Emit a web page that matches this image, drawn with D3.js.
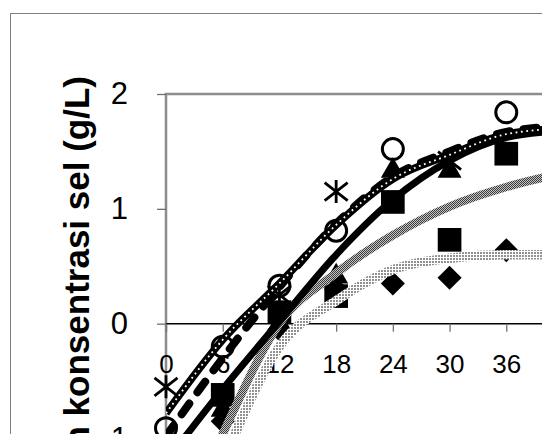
<!DOCTYPE html>
<html>
<head>
<meta charset="utf-8">
<script src="https://cdn.jsdelivr.net/npm/d3@7"></script>
<style>
body{margin:0;background:#fff;}
svg{display:block;}
text{font-family:"Liberation Sans",Arial,sans-serif;fill:#000;}
</style>
</head>
<body>
<div id="chart"></div>
<script>
// data (days vs ln of cell concentration), null = not shown
const days = [0, 6, 12, 18, 24, 30, 36];
const circleVals  = [-0.91, -0.2, 0.33, 0.81, 1.52, null, 1.84];
const starVals    = [-0.55, null, 0.25, 1.15, null, 1.42, null];
const triVals     = [-1.1, -0.75, 0.0, 0.41, 1.33, 1.33, null];
const squareVals  = [-1.15, -0.62, 0.1, 0.24, 1.06, 0.73, 1.48];
const diamondVals = [-1.2, -0.85, -0.05, 0.3, 0.35, 0.40, 0.64];

// trendlines at these days
const trendDays  = [0, 6, 12, 18, 24, 30, 36, 42];
const dottedFit  = [-0.78, -0.14, 0.35, 0.86, 1.26, 1.47, 1.65, 1.70];
const dashedFit  = [-0.98, -0.30, 0.32, 0.87, 1.28, 1.50, 1.67, 1.72];
const solidFit   = [-1.20, -0.57, 0.02, 0.60, 1.08, 1.42, 1.62, 1.68];
const grayFit    = [-2.10, -0.96, 0.00, 0.44, 0.77, 1.02, 1.19, 1.31];
const lightFit   = [-2.40, -1.20, -0.20, 0.20, 0.47, 0.57, 0.60, 0.60];

const xTicks = [0, 6, 12, 18, 24, 30, 36];
const yTicks = [-1, 0, 1, 2];
const yTitle = "ln konsentrasi sel (g/L)";

const w = 542, h = 434;

const xScale = d3.scaleLinear().domain([0, 42]).range([166, 563]);
const yScale = d3.scaleLinear().domain([-1, 2]).range([438.5, 94]);

const svg = d3.select("#chart").append("svg")
  .attr("width", w).attr("height", h);

// patterns for the gray trendlines
const defs = svg.append("defs");
const pd = defs.append("pattern").attr("id", "darkHatch")
  .attr("patternUnits", "userSpaceOnUse").attr("width", 2).attr("height", 2);
pd.append("rect").attr("width", 2).attr("height", 2).attr("fill", "#c4c4c4");
pd.append("rect").attr("width", 1).attr("height", 1).attr("fill", "#3c3c3c");
pd.append("rect").attr("x", 1).attr("y", 1).attr("width", 1).attr("height", 1).attr("fill", "#3c3c3c");

const pl = defs.append("pattern").attr("id", "lightDots")
  .attr("patternUnits", "userSpaceOnUse").attr("width", 3).attr("height", 3);
pl.append("rect").attr("width", 3).attr("height", 3).attr("fill", "#fff");
pl.append("rect").attr("width", 2).attr("height", 2).attr("fill", "#909090");

defs.append("clipPath").attr("id", "plotClip")
  .append("rect").attr("x", 166).attr("y", 94).attr("width", 397).attr("height", 400);

// chart area border
svg.append("rect")
  .attr("x", 10.5).attr("y", 13.5).attr("width", 600).attr("height", 500)
  .attr("fill", "#fff").attr("stroke", "#808080").attr("stroke-width", 1);

// plot area border
svg.append("rect")
  .attr("x", 166).attr("y", 94).attr("width", 397).attr("height", 400)
  .attr("fill", "none").attr("stroke", "#8c8c8c").attr("stroke-width", 2.5);

// y axis
const yAxis = svg.append("g")
  .attr("transform", "translate(166,0)")
  .call(d3.axisLeft(yScale).tickValues(yTicks).tickSize(9).tickPadding(29)
    .tickFormat(d3.format("d")));
yAxis.select(".domain").remove();
yAxis.selectAll(".tick line").attr("stroke", "#707070").attr("stroke-width", 1.3);
yAxis.selectAll(".tick text").attr("font-size", 31).attr("font-family", "Liberation Sans, Arial, sans-serif")
  .text(d => d < 0 ? "-" + Math.abs(d) : d);

// x axis on y = 0
const xAxis = svg.append("g")
  .attr("transform", "translate(0," + yScale(0) + ")")
  .call(d3.axisBottom(xScale).tickValues(xTicks).tickSize(8).tickSizeOuter(0));
xAxis.select(".domain").attr("stroke", "#000").attr("stroke-width", 1.5)
  .attr("d", "M166,0H563");
xAxis.selectAll(".tick line").attr("stroke", "#707070").attr("stroke-width", 1.3);
xAxis.selectAll(".tick text").attr("font-size", 26)
  .attr("font-family", "Liberation Sans, Arial, sans-serif")
  .attr("y", 40).attr("dy", "0.35em");

// y axis title
svg.append("text")
  .attr("transform", "translate(89,76) rotate(-90)")
  .attr("text-anchor", "end")
  .attr("font-size", 35).attr("font-weight", "bold")
  .text(yTitle);

// markers
const pts = vals => days.map((d, i) => [d, vals[i]]).filter(p => p[1] !== null);
const markers = svg.append("g");

markers.selectAll(".circ").data(pts(circleVals)).enter().append("circle")
  .attr("cx", d => xScale(d[0])).attr("cy", d => yScale(d[1])).attr("r", 10.5)
  .attr("fill", "none").attr("stroke", "#000").attr("stroke-width", 3);

const starPath = "M0,-11.5V11.5M-11.5,-9L11.5,9M-11.5,9L11.5,-9";
markers.selectAll(".star").data(pts(starVals)).enter().append("path")
  .attr("transform", d => "translate(" + xScale(d[0]) + "," + yScale(d[1]) + ")")
  .attr("d", starPath).attr("fill", "none").attr("stroke", "#000").attr("stroke-width", 2.8);

markers.selectAll(".tri").data(pts(triVals)).enter().append("path")
  .attr("transform", d => "translate(" + xScale(d[0]) + "," + yScale(d[1]) + ")")
  .attr("d", d3.symbol(d3.symbolTriangle, 250)).attr("fill", "#000");

markers.selectAll(".sq").data(pts(squareVals)).enter().append("path")
  .attr("transform", d => "translate(" + xScale(d[0]) + "," + yScale(d[1]) + ")")
  .attr("d", d3.symbol(d3.symbolSquare, 560)).attr("fill", "#000");

markers.selectAll(".dia").data(pts(diamondVals)).enter().append("path")
  .attr("transform", d => "translate(" + xScale(d[0]) + "," + yScale(d[1]) + ") rotate(45)")
  .attr("d", d3.symbol(d3.symbolSquare, 290)).attr("fill", "#000");

// trendlines
const line = d3.line()
  .x((d, i) => xScale(trendDays[i]))
  .y(d => yScale(d))
  .curve(d3.curveMonotoneX);

const trends = svg.append("g").attr("clip-path", "url(#plotClip)").attr("fill", "none");

trends.append("path").attr("d", line(lightFit))
  .attr("stroke", "url(#lightDots)").attr("stroke-width", 9.5);
trends.append("path").attr("d", line(grayFit))
  .attr("stroke", "url(#darkHatch)").attr("stroke-width", 8.5);
trends.append("path").attr("d", line(solidFit))
  .attr("stroke", "#000").attr("stroke-width", 7);
trends.append("path").attr("d", line(dashedFit))
  .attr("stroke", "#000").attr("stroke-width", 8)
  .attr("stroke-dasharray", "13 14").attr("stroke-linecap", "round");
trends.append("path").attr("d", line(dottedFit))
  .attr("stroke", "#000").attr("stroke-width", 7.5);
trends.append("path").attr("d", line(dottedFit))
  .attr("stroke", "#fff").attr("stroke-width", 1.8)
  .attr("stroke-dasharray", "1.8 3.6");
</script>
</body>
</html>
